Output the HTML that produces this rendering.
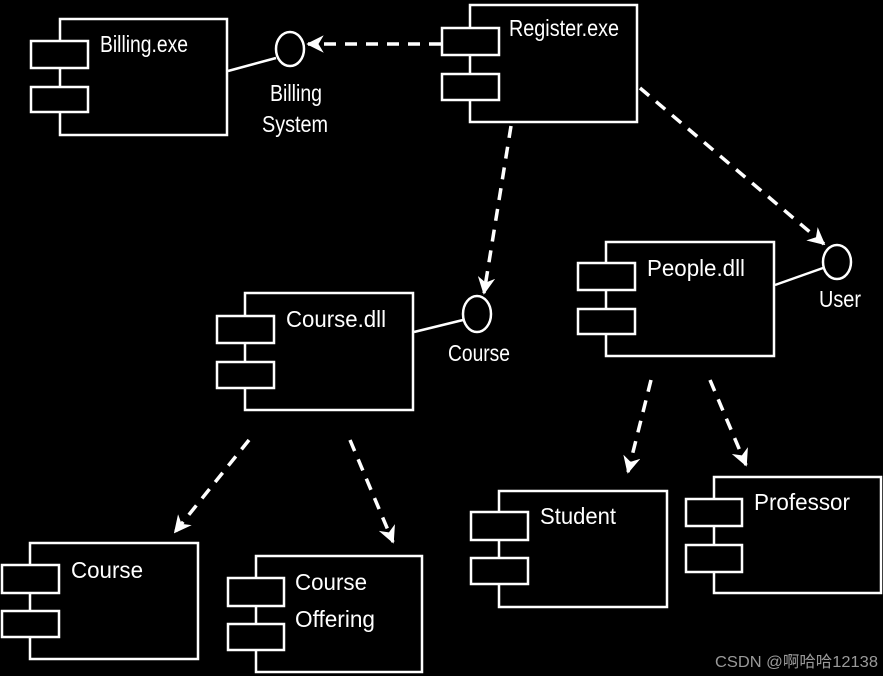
<!DOCTYPE html>
<html><head><meta charset="utf-8"><style>html,body{margin:0;padding:0;background:#000}svg{display:block}</style></head>
<body>
<svg width="883" height="676" viewBox="0 0 883 676" xmlns="http://www.w3.org/2000/svg">
<defs>
<marker id="ah" viewBox="0 0 10 10" refX="9" refY="5" markerWidth="5" markerHeight="5" orient="auto">
<path d="M0,0 L10,5 L0,10 L3,5 Z" fill="#fff"/></marker>
</defs>
<g fill="none" stroke="#fff" stroke-width="2.5">
<rect x="60" y="19" width="167" height="116"/>
<rect x="31" y="41" width="57" height="27" fill="#000"/>
<rect x="31" y="87" width="57" height="25" fill="#000"/>
<ellipse cx="290" cy="49" rx="14" ry="17"/>
<line x1="228" y1="71" x2="276" y2="58"/>
<rect x="470" y="5" width="167" height="117"/>
<rect x="442" y="28" width="57" height="27" fill="#000"/>
<rect x="442" y="74" width="57" height="26" fill="#000"/>
<rect x="245" y="293" width="168" height="117"/>
<rect x="217" y="316" width="57" height="27" fill="#000"/>
<rect x="217" y="362" width="57" height="26" fill="#000"/>
<ellipse cx="477" cy="314" rx="14" ry="18"/>
<line x1="414" y1="332" x2="463" y2="320"/>
<rect x="606" y="242" width="168" height="114"/>
<rect x="578" y="263" width="57" height="27" fill="#000"/>
<rect x="578" y="309" width="57" height="25" fill="#000"/>
<ellipse cx="837" cy="262" rx="14" ry="17"/>
<line x1="775" y1="285" x2="823" y2="268"/>
<rect x="30" y="543" width="168" height="116"/>
<rect x="2" y="565" width="57" height="28" fill="#000"/>
<rect x="2" y="611" width="57" height="26" fill="#000"/>
<rect x="256" y="556" width="166" height="116"/>
<rect x="228" y="578" width="56" height="28" fill="#000"/>
<rect x="228" y="624" width="56" height="26" fill="#000"/>
<rect x="499" y="491" width="168" height="116"/>
<rect x="471" y="512" width="57" height="28" fill="#000"/>
<rect x="471" y="558" width="57" height="26" fill="#000"/>
<rect x="714" y="477" width="167" height="116"/>
<rect x="686" y="499" width="56" height="27" fill="#000"/>
<rect x="686" y="545" width="56" height="27" fill="#000"/>
</g>
<g fill="none" stroke="#fff" stroke-width="3.5" stroke-dasharray="12,9" marker-end="url(#ah)">
<line x1="441" y1="44" x2="308" y2="44"/>
<line x1="511" y1="126" x2="484" y2="293"/>
<line x1="640" y1="88" x2="824" y2="244"/>
<line x1="249" y1="440" x2="175" y2="532"/>
<line x1="350" y1="440" x2="393" y2="542"/>
<line x1="651" y1="380" x2="628" y2="472"/>
<line x1="710" y1="380" x2="746" y2="465"/>
</g>
<g fill="#fff" font-family="Liberation Sans, sans-serif" font-size="23">
<text x="100" y="52" textLength="88" lengthAdjust="spacingAndGlyphs">Billing.exe</text>
<text x="270" y="101" textLength="52" lengthAdjust="spacingAndGlyphs">Billing</text>
<text x="262" y="132" textLength="66" lengthAdjust="spacingAndGlyphs">System</text>
<text x="509" y="36" textLength="110" lengthAdjust="spacingAndGlyphs">Register.exe</text>
<text x="286" y="327" textLength="100" lengthAdjust="spacingAndGlyphs">Course.dll</text>
<text x="448" y="361" textLength="62" lengthAdjust="spacingAndGlyphs">Course</text>
<text x="647" y="276" textLength="98" lengthAdjust="spacingAndGlyphs">People.dll</text>
<text x="819" y="307" textLength="42" lengthAdjust="spacingAndGlyphs">User</text>
<text x="71" y="578" textLength="72" lengthAdjust="spacingAndGlyphs">Course</text>
<text x="295" y="590" textLength="72" lengthAdjust="spacingAndGlyphs">Course</text>
<text x="295" y="627" textLength="80" lengthAdjust="spacingAndGlyphs">Offering</text>
<text x="540" y="524" textLength="76" lengthAdjust="spacingAndGlyphs">Student</text>
<text x="754" y="510" textLength="96" lengthAdjust="spacingAndGlyphs">Professor</text>
</g>
<text x="715" y="667" fill="#9a9a9a" font-family="Liberation Sans, Noto Sans CJK SC, sans-serif" font-size="16" textLength="163" lengthAdjust="spacingAndGlyphs">CSDN @啊哈哈12138</text>
</svg>
</body></html>
